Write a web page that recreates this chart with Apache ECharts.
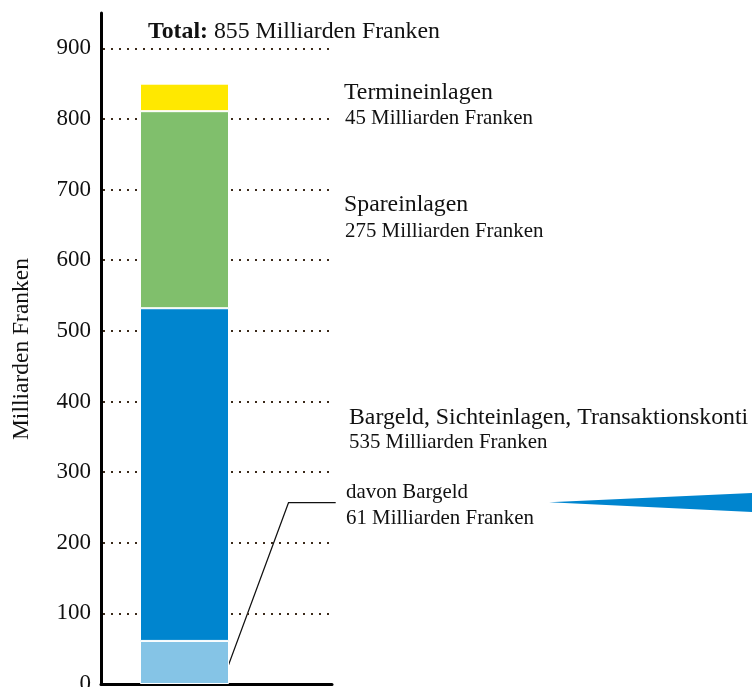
<!DOCTYPE html>
<html>
<head>
<meta charset="utf-8">
<script src="https://cdn.jsdelivr.net/npm/echarts@6/dist/echarts.min.js"></script>
<style>
  html, body { margin: 0; padding: 0; background: #fff; }
  #chart { width: 752px; height: 687px; }
</style>
</head>
<body>
<div id="chart"></div>
<script>
// Geldmenge M3, Milliarden Franken (Werte aus dem Bild gelesen)
const categories = ['M3'];
const bargeld = [61];
const sichteinlagen = [471];   // Bargeld + Sichteinlagen = ca. 532
const spareinlagen = [279];
const termineinlagen = [39];

const yMin = 0;
const yMax = 950;
const yStep = 100;

const serif = 'Liberation Serif';
const chart = echarts.init(document.getElementById('chart'));

// gemeinsamer Stil der Balkensegmente
function segment(name, data, color) {
  return {
    name: name,
    type: 'bar',
    stack: 'm3',
    data: data,
    barWidth: 89,
    barGap: '-28.09%',
    itemStyle: { color: color, borderColor: '#fff', borderWidth: 1 },
    silent: true
  };
}

function txt(x, y, text, size) {
  return {
    type: 'text',
    x: x,
    y: y,
    style: {
      text: text,
      font: size + 'px "' + serif + '"',
      fill: '#111',
      verticalAlign: 'middle'
    },
    silent: true
  };
}

const big = 23.8;
const small = 20.9;

const option = {
  animation: false,
  backgroundColor: '#fff',
  grid: { left: 101, right: 420, top: 13, bottom: 3, outerBoundsMode: 'none', containLabel: false },
  xAxis: {
    type: 'category',
    data: categories,
    axisLine: { lineStyle: { color: '#000', width: 3 } },
    axisTick: { show: false },
    axisLabel: { show: false },
    splitLine: { show: false }
  },
  yAxis: {
    type: 'value',
    min: yMin,
    max: yMax,
    interval: yStep,
    axisLine: { show: true, lineStyle: { color: '#000', width: 3 } },
    axisTick: { show: false },
    axisLabel: {
      showMaxLabel: false,
      color: '#111',
      fontFamily: serif,
      fontSize: 23,
      margin: 10,
      padding: [4, 0, 0, 0]
    },
    splitLine: {
      show: true,
      showMaxLine: false,
      lineStyle: { color: '#3b2a1a', width: 2, type: [2, 6], dashOffset: 6 }
    }
  },
  series: [
    segment('Bargeld', bargeld, '#85c4e6'),
    segment('Sichteinlagen', sichteinlagen, '#0085cf'),
    segment('Spareinlagen', spareinlagen, '#80bf6c'),
    segment('Termineinlagen', termineinlagen, '#ffe800'),
    // leere Serie, nur damit der Balken links von der Mitte sitzt
    {
      name: 'platz',
      type: 'bar',
      data: [],
      barWidth: 89,
      barGap: '-28.09%',
      silent: true
    }
  ],
  graphic: [
    {
      type: 'text',
      x: 22,
      y: 349,
      rotation: Math.PI / 2,
      silent: true,
      style: {
        text: 'Milliarden Franken',
        font: '23.5px "' + serif + '"',
        fill: '#111',
        align: 'center',
        verticalAlign: 'middle'
      }
    },
    {
      type: 'text',
      x: 148,
      y: 32,
      silent: true,
      style: {
        text: '{b|Total:} 855 Milliarden Franken',
        font: big + 'px "' + serif + '"',
        fill: '#111',
        verticalAlign: 'middle',
        rich: {
          b: { fontWeight: 'bold', fontFamily: serif, fontSize: big, fill: '#111' }
        }
      }
    },
    txt(344, 93, 'Termineinlagen', big),
    txt(345, 119, '45 Milliarden Franken', small),
    txt(344, 205, 'Spareinlagen', big),
    txt(345, 231.5, '275 Milliarden Franken', small),
    txt(349, 418, 'Bargeld, Sichteinlagen, Transaktionskonti', big),
    txt(349, 442.5, '535 Milliarden Franken', small),
    txt(346, 493, 'davon Bargeld', small),
    txt(346, 518.5, '61 Milliarden Franken', small),
    {
      type: 'polyline',
      silent: true,
      shape: { points: [[228.5, 665], [288.5, 502.7], [335.7, 502.7]] },
      style: { stroke: '#111', lineWidth: 1.2, fill: null }
    },
    {
      type: 'polygon',
      silent: true,
      shape: { points: [[549, 502.3], [752, 493], [752, 512]] },
      style: { fill: '#0085cf' }
    }
  ]
};

chart.setOption(option);
</script>
</body>
</html>
